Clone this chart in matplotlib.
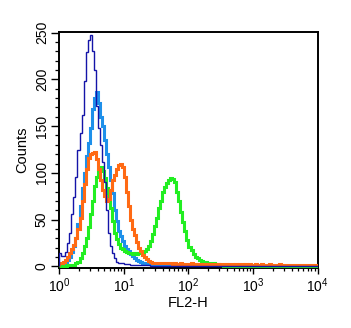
import numpy as np
import matplotlib
matplotlib.use("Agg")
import matplotlib.pyplot as plt
from matplotlib.ticker import MultipleLocator, LogLocator, LogFormatterMathtext, NullFormatter

plt.rcParams["font.family"] = ["Liberation Sans", "DejaVu Sans"]
plt.rcParams["mathtext.fontset"] = "custom"
plt.rcParams["mathtext.rm"] = "Liberation Sans"
plt.rcParams["mathtext.it"] = "Liberation Sans:italic"
plt.rcParams["mathtext.bf"] = "Liberation Sans:bold"

# FL2-H histograms, 32 channels per decade from 10^0 to 10^4
CHANNELS_PER_DECADE = 32
N_CHANNELS = 128

control_dark = [14, 11, 11, 15, 25, 36, 56, 74, 96, 124,
                143, 162, 198, 229, 242, 248, 230, 210, 172, 148,
                130, 112, 90, 60, 36, 22, 14, 9, 5, 4,
                3, 3, 2, 2, 2, 1, 1, 1, 1, 1,
                1, 1, 1, 1, 1]

control_light = [2, 2, 3, 4, 7, 10, 15, 22, 30, 45,
                 64, 84, 100, 118, 132, 148, 168, 180, 187, 175,
                 160, 150, 135, 120, 106, 92, 78, 60, 48, 38,
                 32, 27, 22, 19, 16, 13, 11, 9, 7, 6,
                 5, 4, 3, 3, 2, 2, 1, 1, 1]

sample_orange = [3, 4, 5, 7, 10, 14, 18, 23, 30, 40,
                 52, 70, 88, 104, 116, 120, 121, 122, 115, 104,
                 92, 82, 75, 70, 72, 82, 92, 98, 104, 108,
                 110, 106, 96, 80, 64, 50, 40, 33, 26, 20,
                 16, 12, 10, 8, 6, 5, 4,
                 4, 3, 3, 3, 3, 3, 3, 3, 3, 2,
                 3, 2, 2, 3, 2, 2, 2, 2, 3, 2,
                 2, 2, 2, 2, 2, 2, 1, 2, 2, 2,
                 2, 2, 1, 2, 2, 2, 1, 2, 2, 1,
                 2, 1, 2, 2, 1, 2, 1, 2, 1, 1,
                 2, 1, 1, 2, 1, 1, 1, 2, 1, 1,
                 1, 1, 2, 1, 1, 1, 1, 1, 1, 1,
                 1, 1, 1, 1, 1, 1, 1, 1, 1, 1, 1]

sample_green = [0, 0, 0, 0, 1, 1, 1, 1, 3, 5,
                9, 14, 22, 30, 42, 56, 70, 86, 96, 102,
                106, 102, 94, 84, 74, 62, 48, 36, 29, 24,
                20, 18, 16, 15, 14, 14, 13, 14, 13, 14,
                14, 15, 16, 19, 22, 27, 34, 43, 52, 62,
                70, 79, 85, 89, 92, 94, 93, 90, 80, 70,
                58, 47, 38, 28, 21, 17, 13, 10, 9, 7,
                6, 5, 5, 4, 4, 3, 3, 2, 2, 1,
                1]

y_ticks = [0, 50, 100, 150, 200, 250]


def full_length(counts):
    """Extend a histogram with empty channels up to the full range."""
    return np.array(counts + [0] * (N_CHANNELS - len(counts)), dtype=float)


edges = 10.0 ** (np.arange(N_CHANNELS + 1) / CHANNELS_PER_DECADE)

fig = plt.figure(figsize=(3.51, 3.28), dpi=100)
ax = fig.add_axes([0.169, 0.184, 0.736, 0.719])

ax.stairs(full_length(control_light), edges, color="#1e90ea", lw=2.2, joinstyle="miter", zorder=2)
ax.stairs(full_length(sample_green), edges, color="#22ee22", lw=2.2, joinstyle="miter", zorder=3)
ax.stairs(full_length(sample_orange), edges, color="#ff6a14", lw=2.2, joinstyle="miter", zorder=4)
ax.stairs(full_length(control_dark), edges, color="#1414a8", lw=1.0, joinstyle="miter", zorder=5)

ax.set_xscale("log")
ax.set_xlim(1, 1e4)
ax.set_ylim(-1.5, 251)

ax.set_yticks(y_ticks)
ax.yaxis.set_minor_locator(MultipleLocator(10))
ax.xaxis.set_major_locator(LogLocator(base=10, numticks=10))
ax.xaxis.set_minor_locator(LogLocator(base=10, subs=np.arange(2, 10), numticks=20))
ax.xaxis.set_major_formatter(LogFormatterMathtext())
ax.xaxis.set_minor_formatter(NullFormatter())

ax.tick_params(axis="y", which="major", direction="out", length=5.5, width=1.0,
               labelsize=10, pad=2)
ax.tick_params(axis="y", which="minor", direction="out", length=3.2, width=0.9)
ax.tick_params(axis="x", which="major", direction="out", length=4.0, width=1.0,
               labelsize=10, pad=2)
ax.tick_params(axis="x", which="minor", direction="out", length=2.5, width=0.9)
for lab in ax.get_yticklabels():
    lab.set_rotation(90)
    lab.set_va("center")

for sp in ax.spines.values():
    sp.set_linewidth(1.4)

ax.set_ylabel("Counts", fontsize=10.5, labelpad=4)
ax.set_xlabel("FL2-H", fontsize=10.5, labelpad=1)

fig.savefig("out.png", dpi=100, facecolor="white")
